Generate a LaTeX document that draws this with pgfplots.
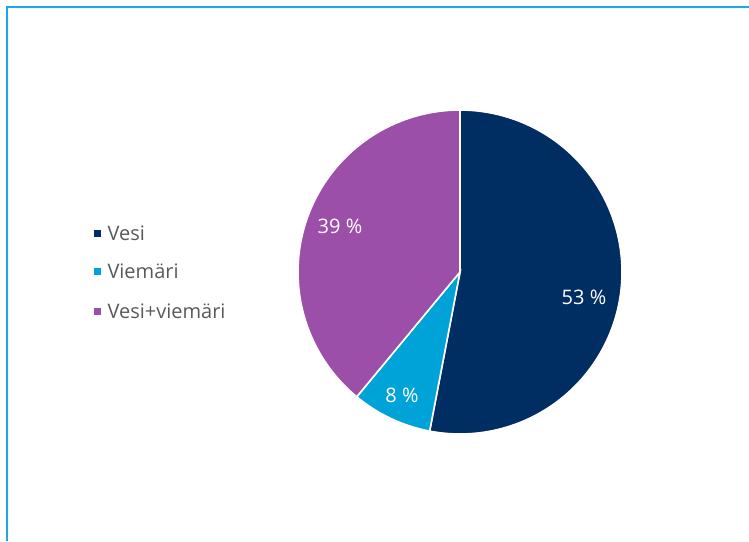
\documentclass[border=0pt]{standalone}
\usepackage{pgfplots}
\pgfplotsset{compat=1.18}
\usepackage{fontspec}
\setmainfont{Open Sans}
\definecolor{cVesi}{HTML}{002D62}
\definecolor{cViem}{HTML}{00A3D7}
\definecolor{cVV}{HTML}{9C4FA9}
\definecolor{frameblue}{HTML}{1AA7EC}
\definecolor{txt}{HTML}{595959}
\begin{document}
\begin{tikzpicture}
\def\cx{460}\def\cy{272}\def\R{162}
\def\vA{53}\def\vB{8}\def\vC{39}
\pgfmathsetmacro\aA{0}
\pgfmathsetmacro\aB{\vA*3.6}
\pgfmathsetmacro\aC{(\vA+\vB)*3.6}
\pgfmathsetmacro\aD{(\vA+\vB+\vC)*3.6}
\begin{axis}[scale only axis, width=749pt, height=541pt,
  xmin=0, xmax=749, ymin=0, ymax=541, y dir=reverse,
  hide axis, clip=false, anchor=south west, at={(0,0)}]
\draw[frameblue, line width=1.8pt] (axis cs:7,541) -- (axis cs:7,7) -- (axis cs:749,7);
\addplot[fill=cVesi, draw=white, line width=1.6pt, domain=\aA:\aB, samples=120, variable=\t]
  ({\cx+\R*sin(\t)},{\cy-\R*cos(\t)}) -- (axis cs:\cx,\cy) -- cycle;
\addplot[fill=cViem, draw=white, line width=1.6pt, domain=\aB:\aC, samples=40, variable=\t]
  ({\cx+\R*sin(\t)},{\cy-\R*cos(\t)}) -- (axis cs:\cx,\cy) -- cycle;
\addplot[fill=cVV, draw=white, line width=1.6pt, domain=\aC:\aD, samples=100, variable=\t]
  ({\cx+\R*sin(\t)},{\cy-\R*cos(\t)}) -- (axis cs:\cx,\cy) -- cycle;
\node[white, font=\fontsize{20}{22}\selectfont] at (axis cs:584,297) {53 \%};
\node[white, font=\fontsize{20}{22}\selectfont] at (axis cs:402,395) {8 \%};
\node[white, font=\fontsize{20}{22}\selectfont] at (axis cs:340,226) {39 \%};
\addplot[only marks, mark=square*, mark size=3.3pt, cVesi] coordinates {(97,233)};
\addplot[only marks, mark=square*, mark size=3.3pt, cViem] coordinates {(97,271)};
\addplot[only marks, mark=square*, mark size=3.3pt, cVV] coordinates {(97,311)};
\node[anchor=west, txt, font=\fontsize{20}{22}\selectfont] at (axis cs:104,233) {Vesi};
\node[anchor=west, txt, font=\fontsize{20}{22}\selectfont] at (axis cs:104,271) {Viemäri};
\node[anchor=west, txt, font=\fontsize{20}{22}\selectfont] at (axis cs:104,311) {Vesi+viemäri};
\end{axis}
\pgfresetboundingbox
\path (0,0) rectangle (749pt,541pt);
\end{tikzpicture}
\end{document}
